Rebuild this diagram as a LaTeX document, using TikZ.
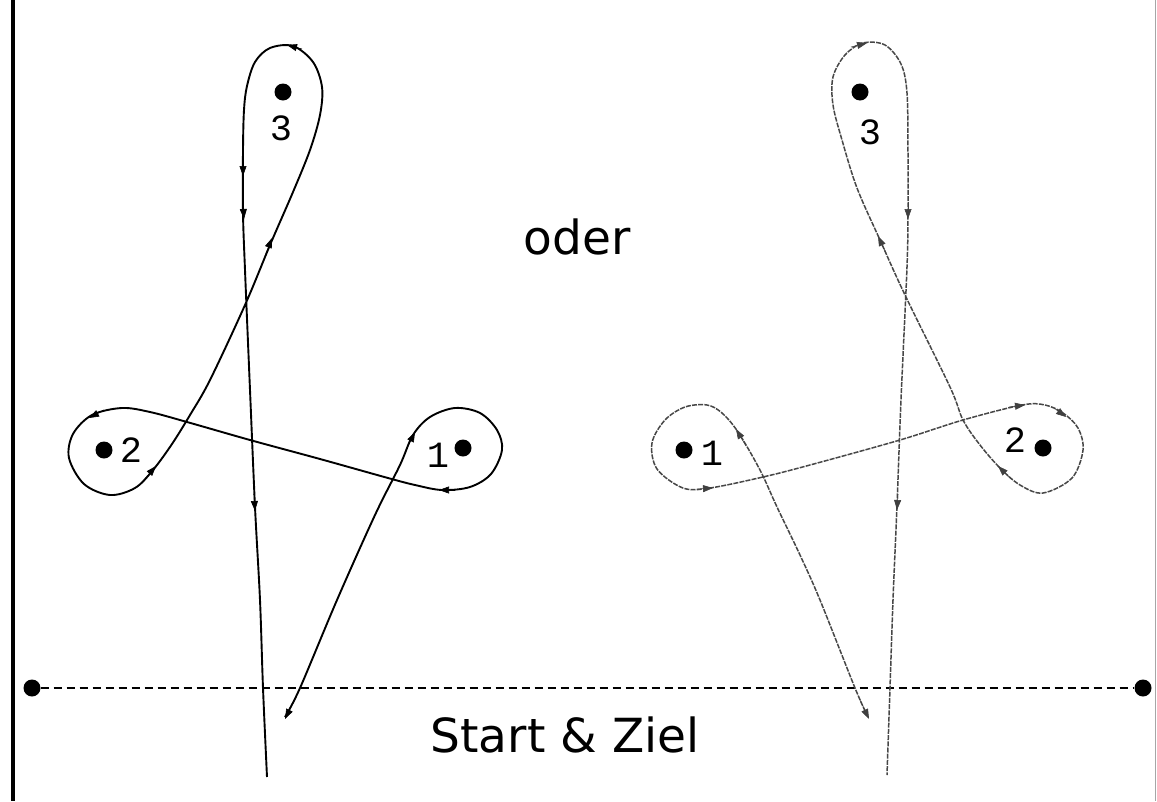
\documentclass[tikz,border=0pt]{standalone}
\usepackage{fontspec}
\setmainfont{DejaVu Sans}
\newfontfamily\monof{Liberation Mono}
\usetikzlibrary{arrows.meta}
\begin{document}
\begin{tikzpicture}[x=1pt,y=-1pt,
  leftpath/.style={line width=1.9pt,black,line join=round},
  rightpath/.style={line width=1.5pt,black!72,dash pattern=on 5pt off 1.2pt,line join=round},
  tipst/.style={-{Triangle[length=10pt,width=7pt]},line width=0.6pt},
  tipgr/.style={-{Triangle[length=10pt,width=7pt]},line width=0.6pt,black!75},
  pt/.style={circle,fill=black,inner sep=0pt,minimum size=17pt},
  numlab/.style={font=\monof\fontsize{37}{37}\selectfont,inner sep=0pt},
  bigtext/.style={font=\fontsize{47}{47}\selectfont,inner sep=0pt}]
\useasboundingbox (0,0) rectangle (1157,801);
\fill[white] (0,0) rectangle (1157,801);
% borders
\draw[line width=4pt] (13,0) -- (13,801);
\draw[line width=0.8pt,black!35] (1155,0) -- (1155,801);
% start / finish line
\node[pt] (sL) at (32,688) {};
\node[pt] (sR) at (1143,688) {};
\draw[line width=1.4pt,dash pattern=on 8pt off 5pt] (sL) -- (sR);
% texts
\node[bigtext] (oder) at (577,237) {oder};
\node[bigtext] (sz) at (565,735) {Start \& Ziel};
% left figure points
\node[pt] (L3) at (283,92) {};
\node[pt] (L2) at (104,450) {};
\node[pt] (L1) at (463,448) {};
\node[numlab] (l3) at (281,128) {3};
\node[numlab] (l2) at (131,450) {2};
\node[numlab] (l1) at (438,455) {1};
% right figure points
\node[pt] (R3) at (860,92) {};
\node[pt] (R1) at (684,450) {};
\node[pt] (R2) at (1043,448) {};
\node[numlab] (r3) at (870,132) {3};
\node[numlab] (r1) at (712,453) {1};
\node[numlab] (r2) at (1015,440) {2};
% left route
\draw[leftpath] plot[smooth,tension=0.55] coordinates {
 (285,717) (300,688) (337,600) (375,515) (400,465) (413,435) (430,417)
 (455,408) (480,413) (497,430) (502,450) (491,474) (470,487) (442,490)
 (415,485) (388,478) (320,459) (250,440) (187,422) (150,412) (122,408)
 (92,415) (73,434) (69,458) (84,484) (110,495) (135,488) (153,470)
 (172,444) (190,415) (210,380) (245,305) (270,245) (293,192) (310,150)
 (320,115) (322,87) (313,62) (293,46) (270,48) (255,62) (247,86)
 (244,110) (243,150) (243,213) (245,270) (250,390) (255,507) (260,600)
 (263,688) (267,777)};
% left arrows
\draw[tipst] (296,697) -- (285,719);
\draw[tipst] (405,452) -- (415,432);
\draw[tipst] (455,490) -- (439,490);
\draw[tipst] (104,410) -- (89,418);
\draw[tipst] (143,481) -- (156,466);
\draw[tipst] (265,256) -- (272,238);
\draw[tipst] (302,49) -- (287,45);
\draw[tipst] (243,160) -- (243,176);
\draw[tipst] (243,204) -- (244,219);
\draw[tipst] (254,494) -- (255,511);
% right route
\draw[rightpath] plot[smooth,tension=0.55] coordinates {
 (868,717) (855,688) (820,600) (800,555) (777,507) (760,470) (738,432)
 (722,413) (707,405) (685,407) (665,420) (652,443) (657,469) (683,488)
 (710,488) (763,477) (810,465) (900,440) (963,420) (1022,405) (1045,405)
 (1063,413) (1078,428) (1083,450) (1072,478) (1043,493) (1020,485)
 (1000,468) (980,445) (963,420) (950,387) (905,295) (880,240) (857,188)
 (842,140) (833,105) (833,77) (845,55) (863,43) (885,45) (901,64)
 (907,93) (908,153) (908,213) (907,267) (901,400) (897,505) (893,600)
 (890,688) (887,775)};
% right arrows
\draw[tipgr] (860,700) -- (869,719);
\draw[tipgr] (746,446) -- (736,429);
\draw[tipgr] (697,489) -- (713,488);
\draw[tipgr] (1009,407) -- (1025,405);
\draw[tipgr] (1054,408) -- (1066,417);
\draw[tipgr] (1011,479) -- (998,466);
\draw[tipgr] (886,253) -- (878,236);
\draw[tipgr] (851,47) -- (867,43);
\draw[tipgr] (908,202) -- (908,219);
\draw[tipgr] (898,494) -- (897,510);
\end{tikzpicture}
\end{document}
